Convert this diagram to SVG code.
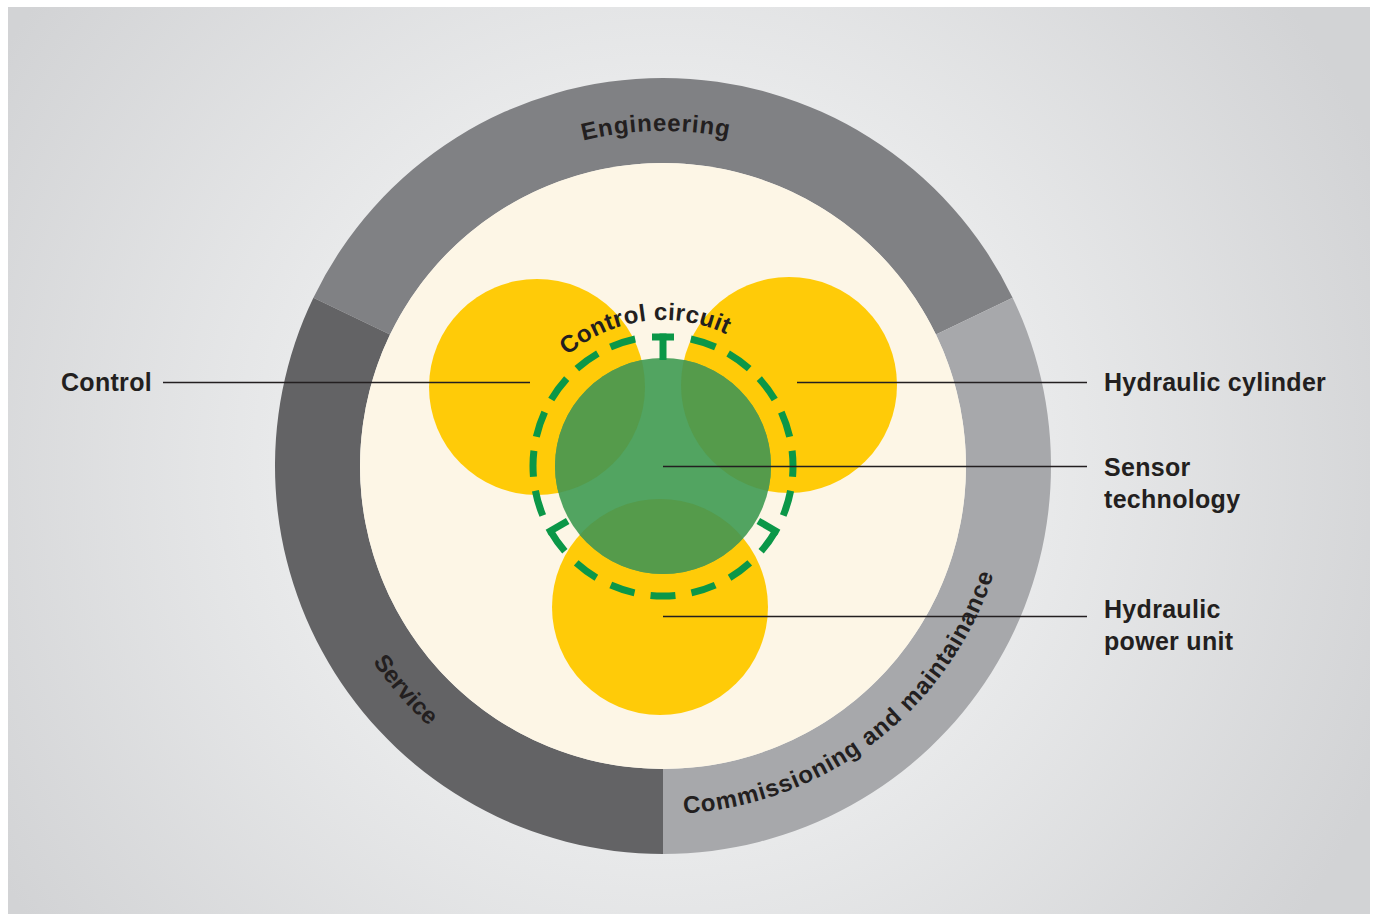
<svg xmlns="http://www.w3.org/2000/svg" width="1375" height="914" viewBox="0 0 1375 914">
<style>
.lbl{font-family:"Liberation Sans",Arial,sans-serif;font-weight:bold;font-size:25px;letter-spacing:0.3px;fill:#231f20}
.ring{font-family:"Liberation Sans",Arial,sans-serif;font-weight:bold;font-size:24px;fill:#231f20}
.lead{stroke:#231f20;stroke-width:1.6;fill:none}
.dash{stroke:#0b9748;stroke-width:7;fill:none;stroke-linecap:butt}
.yel{fill:#ffcb08}
.ovl{fill:#559b4b}
</style>
<defs>
<radialGradient id="bg" gradientUnits="userSpaceOnUse" cx="663" cy="466" r="780">
<stop offset="0" stop-color="#f4f4f5"/>
<stop offset="0.5" stop-color="#e8e9ea"/>
<stop offset="1" stop-color="#d2d3d5"/>
</radialGradient>
<clipPath id="greenClip"><circle cx="663" cy="466" r="108"/></clipPath>
<path id="pEng" d="M401.9,256.1 A335,335 0 0 1 915.1,245.3"/>
<path id="pSrv" d="M317.3,411.3 A350,350 0 0 0 669.1,815.9"/>
<path id="pCom" d="M477.0,760.2 A348,348 0 0 0 994.5,360.2"/>
<path id="pCC" d="M539.8,387.6 A146,146 0 0 1 761.6,358.3"/>
</defs>
<rect x="0" y="0" width="1375" height="914" fill="#ffffff"/>
<rect x="8" y="7" width="1362" height="907" fill="url(#bg)"/>

<g id="engineering">
<path d="M313.4,297.7 A388,388 0 0 1 1012.6,297.7 L936.0,334.6 A303,303 0 0 0 390.0,334.6 Z" fill="#808184"/>
<text class="ring" letter-spacing="0.8"><textPath href="#pEng" startOffset="50%" text-anchor="middle">Engineering</textPath></text>
</g>
<g id="service">
<path d="M663,854 A388,388 0 0 1 313.4,297.7 L390.0,334.6 A303,303 0 0 0 663,769 Z" fill="#636365"/>
<text class="ring"><textPath href="#pSrv" startOffset="50%" text-anchor="middle">Service</textPath></text>
</g>
<g id="commissioning">
<path d="M1012.6,297.7 A388,388 0 0 1 663,854 L663,769 A303,303 0 0 0 936.0,334.6 Z" fill="#a7a8ab"/>
<text class="ring" letter-spacing="0.9"><textPath href="#pCom" startOffset="50%" text-anchor="middle">Commissioning and maintainance</textPath></text>
</g>
<circle id="core" cx="663" cy="466" r="303" fill="#fdf6e6"/>

<g id="control">
<circle class="yel" cx="537" cy="387" r="108"/>
</g>
<g id="hydraulic-cylinder">
<circle class="yel" cx="789" cy="385" r="108"/>
</g>
<g id="hydraulic-power-unit">
<circle class="yel" cx="660" cy="607" r="108"/>
</g>
<g id="sensor-technology">
<circle cx="663" cy="466" r="108" fill="#52a461"/>
<g clip-path="url(#greenClip)">
<circle class="ovl" cx="537" cy="387" r="108"/>
<circle class="ovl" cx="789" cy="385" r="108"/>
<circle class="ovl" cx="660" cy="607" r="108"/>
</g>
</g>

<g id="control-circuit">
<path class="dash" d="M690.8,339.0 A130,130 0 0 1 783.2,515.5" stroke-dasharray="26 14.2"/>
<path class="dash" d="M635.2,339.0 A130,130 0 0 0 542.8,515.5" stroke-dasharray="26 14.2"/>
<path class="dash" d="M775.6,531 A130,130 0 0 1 550.4,531" stroke-dasharray="25 16.2"/>
<line class="dash" x1="652" y1="337" x2="674" y2="337"/>
<line class="dash" x1="663" y1="333.5" x2="663" y2="360"/>
<line class="dash" x1="547.4" y1="532.8" x2="567.7" y2="521"/>
<line class="dash" x1="778.6" y1="532.8" x2="758.3" y2="521"/>
<text class="ring" font-size="22" letter-spacing="0.4"><textPath href="#pCC" startOffset="50%" text-anchor="middle">Control circuit</textPath></text>
</g>

<g id="connectors">
<line class="lead" x1="163" y1="382.5" x2="530" y2="382.5"/>
<line class="lead" x1="797" y1="382.5" x2="1087" y2="382.5"/>
<line class="lead" x1="663" y1="466.5" x2="1087" y2="466.5"/>
<line class="lead" x1="663" y1="616.5" x2="1087" y2="616.5"/>
</g>

<g id="labels">
<text class="lbl" x="61" y="391">Control</text>
<text class="lbl" x="1104" y="391">Hydraulic cylinder</text>
<text class="lbl" x="1104" y="476">Sensor</text>
<text class="lbl" x="1104" y="508">technology</text>
<text class="lbl" x="1104" y="618">Hydraulic</text>
<text class="lbl" x="1104" y="650">power unit</text>
</g>
</svg>
